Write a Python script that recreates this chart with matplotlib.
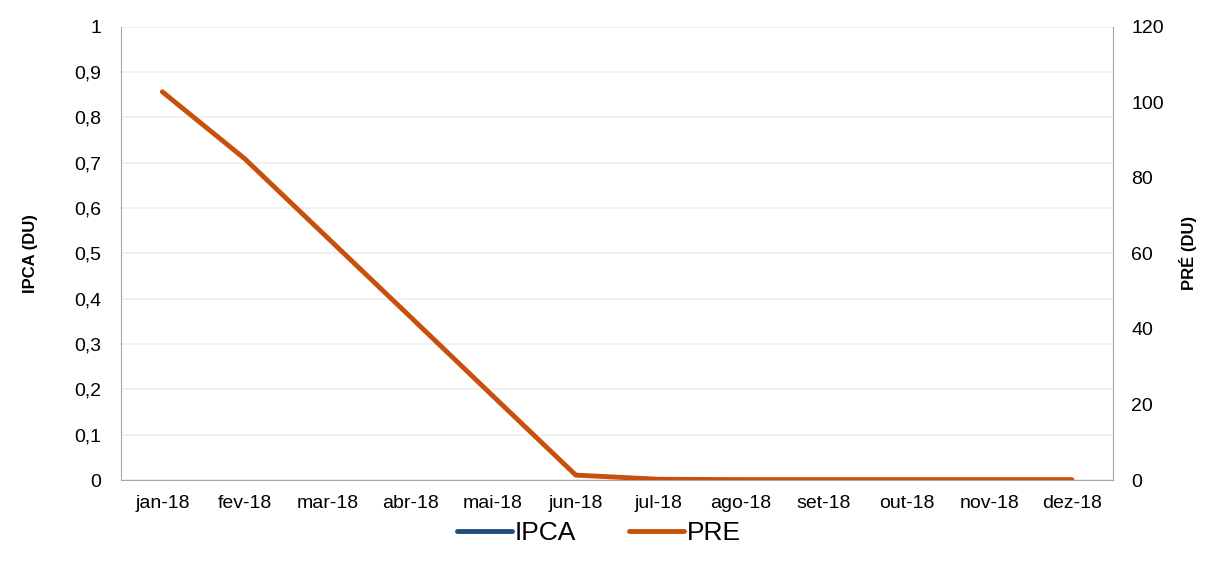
import numpy as np
import matplotlib.pyplot as plt
from matplotlib.ticker import FuncFormatter, MultipleLocator

plt.rcParams['font.family'] = ['Liberation Sans', 'DejaVu Sans']

# data
months = ['jan-18', 'fev-18', 'mar-18', 'abr-18', 'mai-18', 'jun-18',
          'jul-18', 'ago-18', 'set-18', 'out-18', 'nov-18', 'dez-18']
ipca = [np.nan] * 12  # no visible IPCA values in the chart
pre = [102.8, 85.0, 64.1, 43.2, 22.2, 1.3, 0.2, 0.1, 0.1, 0.1, 0.1, 0.1]

blue = '#1F4E79'
orange = '#C9500C'
axis_grey = '#A6A6A6'
grid_grey = '#EDEDED'

fig = plt.figure(figsize=(12.22, 5.63), dpi=100)
ax = fig.add_axes([0.099, 0.1474, 0.812, 0.805])
ax2 = ax.twinx()

x = np.arange(len(months))
l1, = ax.plot(x, ipca, color=blue, lw=3.5, solid_capstyle='round', label='IPCA')
l2, = ax2.plot(x, pre, color=orange, lw=3.5, solid_capstyle='round',
               solid_joinstyle='round', label='PRE')

ax.set_xlim(-0.5, len(months) - 0.5)
ax.set_ylim(0, 1)
ax2.set_ylim(0, 120)
ax.yaxis.set_major_locator(MultipleLocator(0.1))
ax2.yaxis.set_major_locator(MultipleLocator(20))
ax.yaxis.set_major_formatter(FuncFormatter(
    lambda v, p: ('%g' % round(v, 1)).replace('.', ',')))

ax.set_xticks(x)
ax.set_xticklabels(months)
ax.grid(axis='y', color=grid_grey, lw=1.2)
ax.set_axisbelow(True)

for a in (ax, ax2):
    a.tick_params(length=0, labelsize=14, colors='#000000')
    for s in a.spines.values():
        s.set_visible(False)
ax.tick_params(axis='y', pad=14)
ax2.tick_params(axis='y', pad=13)
ax.tick_params(axis='x', pad=11)
ax.spines['left'].set_visible(True)
ax.spines['bottom'].set_visible(True)
ax2.spines['right'].set_visible(True)
ax.spines['left'].set_color(axis_grey)
ax.spines['bottom'].set_color(axis_grey)
ax2.spines['right'].set_color(axis_grey)

ax.set_ylabel('IPCA (DU)', fontsize=12, fontweight='bold', labelpad=26)
ax2.set_ylabel('PRÉ (DU)', fontsize=12, fontweight='bold', labelpad=11)

fig.legend(handles=[l1, l2], loc='lower center', bbox_to_anchor=(0.49, -0.01),
           ncol=2, frameon=False, fontsize=19, handlelength=2.1,
           handletextpad=0.1, columnspacing=2.0)

fig.savefig('out.png', dpi=100)
